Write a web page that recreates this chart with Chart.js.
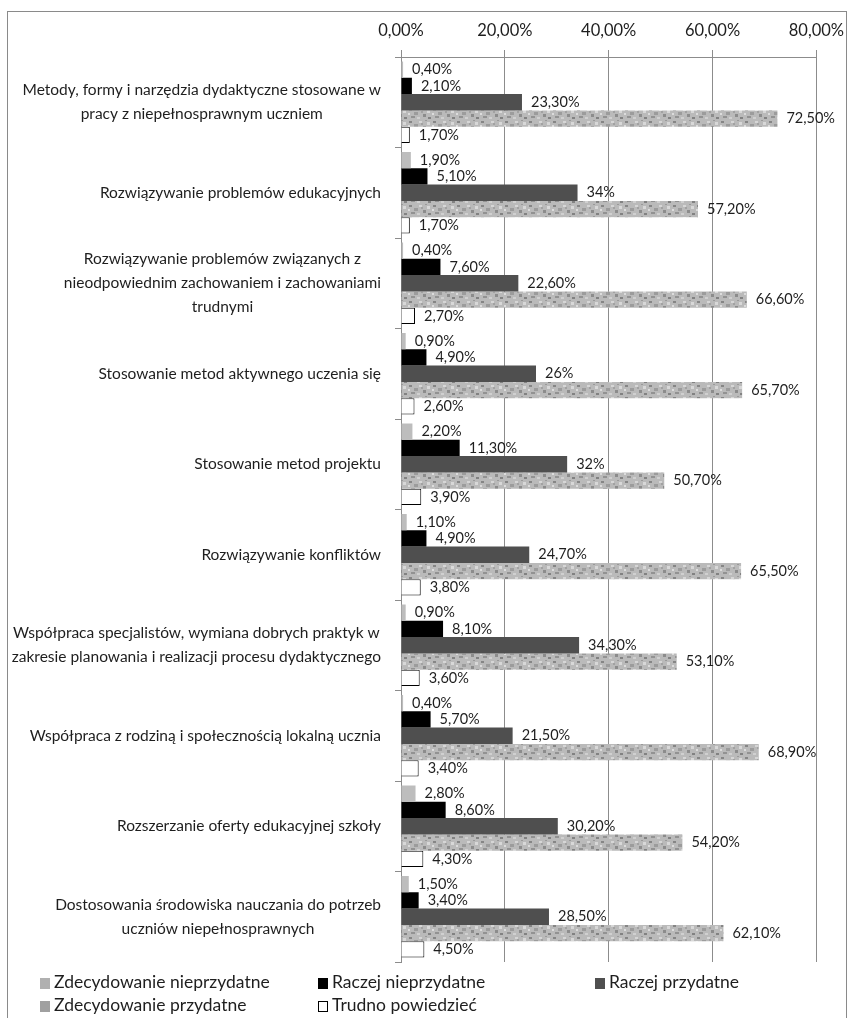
<!DOCTYPE html>
<html lang="pl">
<head>
<meta charset="utf-8">
<title>Przydatność tematyki szkoleń</title>
<script src="https://cdn.jsdelivr.net/npm/chart.js@4.4.1/dist/chart.umd.min.js"></script>
<style>
  html, body { margin: 0; padding: 0; background: #fff; }
  #wrap { position: relative; width: 853px; height: 1018px; overflow: hidden; font-family: Lato, "Open Sans", sans-serif; color: #1e1e1e; }
  #frame { position: absolute; left: 7px; top: 11px; width: 840px; height: 1030px; border: 1.5px solid #8a8a8a; box-sizing: border-box; }
  #chart { position: absolute; left: 0; top: 0; }
  .leg { position: absolute; font-size: 17.5px; line-height: 22px; white-space: nowrap; }
  .leg i { display: inline-block; width: 10px; height: 11px; margin-right: 4px; vertical-align: -1px; box-sizing: border-box; }
</style>
</head>
<body>
<div id="wrap">
  <div id="frame"></div>
  <canvas id="chart" width="853" height="1018"></canvas>
  <div id="legend"></div>
</div>
<script>
// kategorie (oś Y) - linie etykiet
const categories = [
  ["Metody, formy i narzędzia dydaktyczne stosowane w", "pracy z niepełnosprawnym uczniem"],
  ["Rozwiązywanie problemów edukacyjnych"],
  ["Rozwiązywanie problemów związanych z", "nieodpowiednim zachowaniem i zachowaniami", "trudnymi"],
  ["Stosowanie metod aktywnego uczenia się"],
  ["Stosowanie metod projektu"],
  ["Rozwiązywanie konfliktów"],
  ["Współpraca specjalistów, wymiana dobrych praktyk w", "zakresie planowania i realizacji procesu dydaktycznego"],
  ["Współpraca z rodziną i społecznością lokalną ucznia"],
  ["Rozszerzanie oferty edukacyjnej szkoły"],
  ["Dostosowania środowiska nauczania do potrzeb", "uczniów niepełnosprawnych"],
];

const seriesNames = [
  "Zdecydowanie nieprzydatne",
  "Raczej nieprzydatne",
  "Raczej przydatne",
  "Zdecydowanie przydatne",
  "Trudno powiedzieć",
];

// wartości w %
const zdecydowanieNieprzydatne = [0.4, 1.9, 0.4, 0.9, 2.2, 1.1, 0.9, 0.4, 2.8, 1.5];
const raczejNieprzydatne = [2.1, 5.1, 7.6, 4.9, 11.3, 4.9, 8.1, 5.7, 8.6, 3.4];
const raczejPrzydatne = [23.3, 34, 22.6, 26, 32, 24.7, 34.3, 21.5, 30.2, 28.5];
const zdecydowaniePrzydatne = [72.5, 57.2, 66.6, 65.7, 50.7, 65.5, 53.1, 68.9, 54.2, 62.1];
const trudnoPowiedziec = [1.7, 1.7, 2.7, 2.6, 3.9, 3.8, 3.6, 3.4, 4.3, 4.5];

const xTicks = [0, 20, 40, 60, 80];

const FONT = "Lato, 'Open Sans', sans-serif";
const TEXT = "#1e1e1e";
const GRID = "#8c8c8c";

// "34%" dla liczb całkowitych, "23,30%" dla pozostałych
function fmtValue(v) {
  return Number.isInteger(v) ? `${v}%` : `${v.toFixed(2).replace(".", ",")}%`;
}

// tekstura dla "Zdecydowanie przydatne"
function makeTexture() {
  const c = document.createElement("canvas");
  c.width = 24;
  c.height = 12;
  const g = c.getContext("2d");
  g.fillStyle = "#bababa";
  g.fillRect(0, 0, 24, 12);
  const spots = [
    ["#868686", 1, 1, 3, 2], ["#9c9c9c", 6, 4, 4, 3], ["#d6d6d6", 11, 1, 3, 2],
    ["#8c8c8c", 15, 6, 3, 3], ["#d8d8d8", 19, 2, 3, 3], ["#929292", 3, 8, 4, 2],
    ["#d0d0d0", 9, 9, 3, 2], ["#828282", 20, 9, 3, 2], ["#a2a2a2", 13, 3, 2, 2],
    ["#dcdcdc", 0, 5, 2, 2], ["#9a9a9a", 17, 0, 2, 1],
  ];
  spots.forEach(([col, x, y, w, h]) => {
    g.fillStyle = col;
    g.fillRect(x, y, w, h);
  });
  return g.createPattern(c, "repeat");
}

const canvas = document.getElementById("chart");
const texture = makeTexture();

const fills = ["#bdbdbd", "#000000", "#4f4f4f", texture, "#ffffff"];
const legendFills = ["#b0b0b0", "#000000", "#4f4f4f", "#a0a0a0", "#ffffff"];
const seriesData = [
  zdecydowanieNieprzydatne,
  raczejNieprzydatne,
  raczejPrzydatne,
  zdecydowaniePrzydatne,
  trudnoPowiedziec,
];

const valueLabels = {
  id: "valueLabels",
  afterDatasetsDraw(chart) {
    const ctx = chart.ctx;
    ctx.save();
    ctx.font = `14.5px ${FONT}`;
    ctx.fillStyle = TEXT;
    ctx.textAlign = "left";
    ctx.textBaseline = "middle";
    chart.data.datasets.forEach((ds, i) => {
      chart.getDatasetMeta(i).data.forEach((bar, j) => {
        ctx.fillText(fmtValue(ds.data[j]), bar.x + 9, bar.y);
      });
    });
    ctx.restore();
  },
};

// etykiety kategorii: blok wyrównany do prawej, linie wyśrodkowane
const categoryLabels = {
  id: "categoryLabels",
  afterDraw(chart) {
    const yScale = chart.scales.y;
    const ctx = chart.ctx;
    ctx.save();
    ctx.font = `15.5px ${FONT}`;
    ctx.fillStyle = TEXT;
    ctx.textAlign = "center";
    ctx.textBaseline = "middle";
    categories.forEach((lines, i) => {
      const cy = yScale.getPixelForValue(i);
      const w = Math.max(...lines.map((l) => ctx.measureText(l).width));
      const cx = chart.chartArea.left - 20 - w / 2;
      lines.forEach((line, k) => {
        ctx.fillText(line, cx, cy + (k - (lines.length - 1) / 2) * 24);
      });
    });
    ctx.restore();
  },
};

new Chart(canvas, {
  type: "bar",
  data: {
    labels: categories,
    datasets: seriesNames.map((name, i) => ({
      label: name,
      data: seriesData[i],
      backgroundColor: fills[i],
      borderColor: "#000000",
      borderWidth: i === 4 ? 1 : 0,
      barPercentage: 1,
      categoryPercentage: 0.9,
    })),
  },
  options: {
    indexAxis: "y",
    responsive: false,
    animation: false,
    devicePixelRatio: 1,
    layout: { padding: { left: 11, top: 12, right: 36, bottom: 56 } },
    plugins: {
      legend: { display: false },
      tooltip: { enabled: false },
    },
    scales: {
      x: {
        position: "top",
        min: 0,
        max: 80,
        afterBuildTicks: (s) => {
          s.ticks = xTicks.map((v) => ({ value: v }));
        },
        afterFit: (s) => {
          s.height = 45;
        },
        ticks: {
          font: { family: FONT, size: 16.5 },
          color: TEXT,
          padding: 9,
          callback: (v) => `${Number(v).toFixed(2).replace(".", ",")}%`,
        },
        grid: { color: GRID, lineWidth: 1, tickLength: 7 },
        border: { display: true, color: GRID, width: 1 },
      },
      y: {
        afterFit: (s) => {
          s.width = 390;
        },
        ticks: { display: false },
        grid: { drawOnChartArea: false, drawTicks: true, tickLength: 6, color: GRID, offset: true },
        border: { display: true, color: GRID, width: 1 },
      },
    },
  },
  plugins: [valueLabels, categoryLabels],
});

// legenda w 3 kolumnach
const legendPos = [
  [40, 971], [318, 971], [595, 971],
  [40, 994], [318, 994],
];
const legendEl = document.getElementById("legend");
seriesNames.forEach((name, i) => {
  const item = document.createElement("div");
  item.className = "leg";
  item.style.left = legendPos[i][0] + "px";
  item.style.top = legendPos[i][1] + "px";
  const box = document.createElement("i");
  box.style.background = legendFills[i];
  if (i === 4) box.style.border = "1px solid #000";
  item.appendChild(box);
  item.appendChild(document.createTextNode(name));
  legendEl.appendChild(item);
});
</script>
</body>
</html>
